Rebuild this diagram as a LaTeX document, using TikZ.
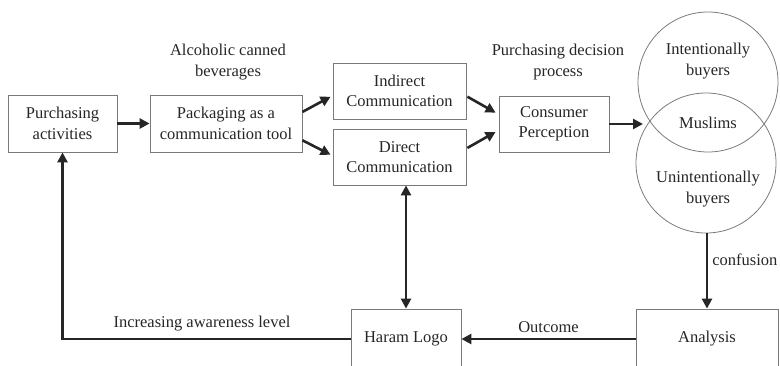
\documentclass[tikz,border=0pt]{standalone}
\usepackage{fontspec}
\setmainfont{Liberation Serif}
\usetikzlibrary{arrows.meta,calc}
\definecolor{ink}{HTML}{262626}
\definecolor{edge}{HTML}{7A7A7A}
\tikzset{
  txt/.style={font=\fontsize{16.5}{20.5}\selectfont, text=ink, align=center, inner sep=0pt},
  box/.style={txt, draw=edge, line width=0.8pt, rectangle},
  ring/.style={draw=edge, line width=0.8pt, circle, inner sep=0pt, minimum size=140pt},
  arr/.style={draw=ink, line width=2.6pt, -{Triangle[length=10pt,width=10pt]}},
  arrtwo/.style={draw=ink, line width=2.6pt, {Triangle[length=10pt,width=10pt]}-{Triangle[length=10pt,width=10pt]}}
}
\begin{document}
\begin{tikzpicture}[x=1pt,y=-1pt]
\useasboundingbox (0,0) rectangle (780,365);
\clip (0,0) rectangle (780,365);
% boxes
\node[box, minimum width=109pt, minimum height=57pt] (purch) at (62.5,123.5) {Purchasing\\activities};
\node[box, minimum width=152pt, minimum height=57pt] (pack) at (226,123.5) {Packaging as a\\communication tool};
\node[box, minimum width=133pt, minimum height=56pt] (indir) at (399.5,91) {Indirect\\Communication};
\node[box, minimum width=133pt, minimum height=56pt] (dir) at (399.5,157) {Direct\\Communication};
\node[box, minimum width=110pt, minimum height=56pt] (cons) at (554,124) {Consumer\\Perception};
\node[box, minimum width=110pt, minimum height=60pt] (haram) at (406,339) {Haram Logo};
\node[box, minimum width=142pt, minimum height=60pt] (anal) at (707,339) {Analysis};
% venn
\node[ring] (top) at (708,82) {};
\node[ring] (bot) at (706,163) {};
\node[txt] (intb) at (708,61) {Intentionally\\buyers};
\node[txt] (musl) at (708,123) {Muslims};
\node[txt] (unib) at (708,189) {Unintentionally\\buyers};
\coordinate (vennin) at (643,124);
% top labels
\node[txt] (alc) at (228,62) {Alcoholic canned\\beverages};
\node[txt] (pdp) at (558,62) {Purchasing decision\\process};
% connectors
\draw[arr] (purch.east) -- (pack.west);
\draw[arr] ($(pack.north east)!0.3!(pack.south east)$) -- ($(indir.north west)!0.6!(indir.south west)+(-2,0)$);
\draw[arr] ($(pack.north east)!0.79!(pack.south east)$) -- ($(dir.north west)!0.46!(dir.south west)+(-2,0)$);
\draw[arr] ($(indir.north east)!0.6!(indir.south east)+(1,0)$) -- ($(cons.north west)!0.3!(cons.south west)+(-3,0)$);
\draw[arr] ($(dir.north east)!0.34!(dir.south east)+(1,0)$) -- ($(cons.north west)!0.64!(cons.south west)+(-3,0)$);
\draw[arr] (cons.east) -- (vennin);
\draw[arr] (anal.north |- bot.south) -- node[txt, right, pos=0.35, xshift=4pt] {confusion} (anal.north);
\draw[arr] (anal.west) -- node[txt, above, yshift=5pt] {Outcome} (haram.east);
\draw[arrtwo] (haram.north |- dir.south) -- (haram.north);
\draw[arr] (haram.west) -| (purch.south);
\node[txt] (awar) at (202,324) {Increasing awareness level};
\end{tikzpicture}
\end{document}
